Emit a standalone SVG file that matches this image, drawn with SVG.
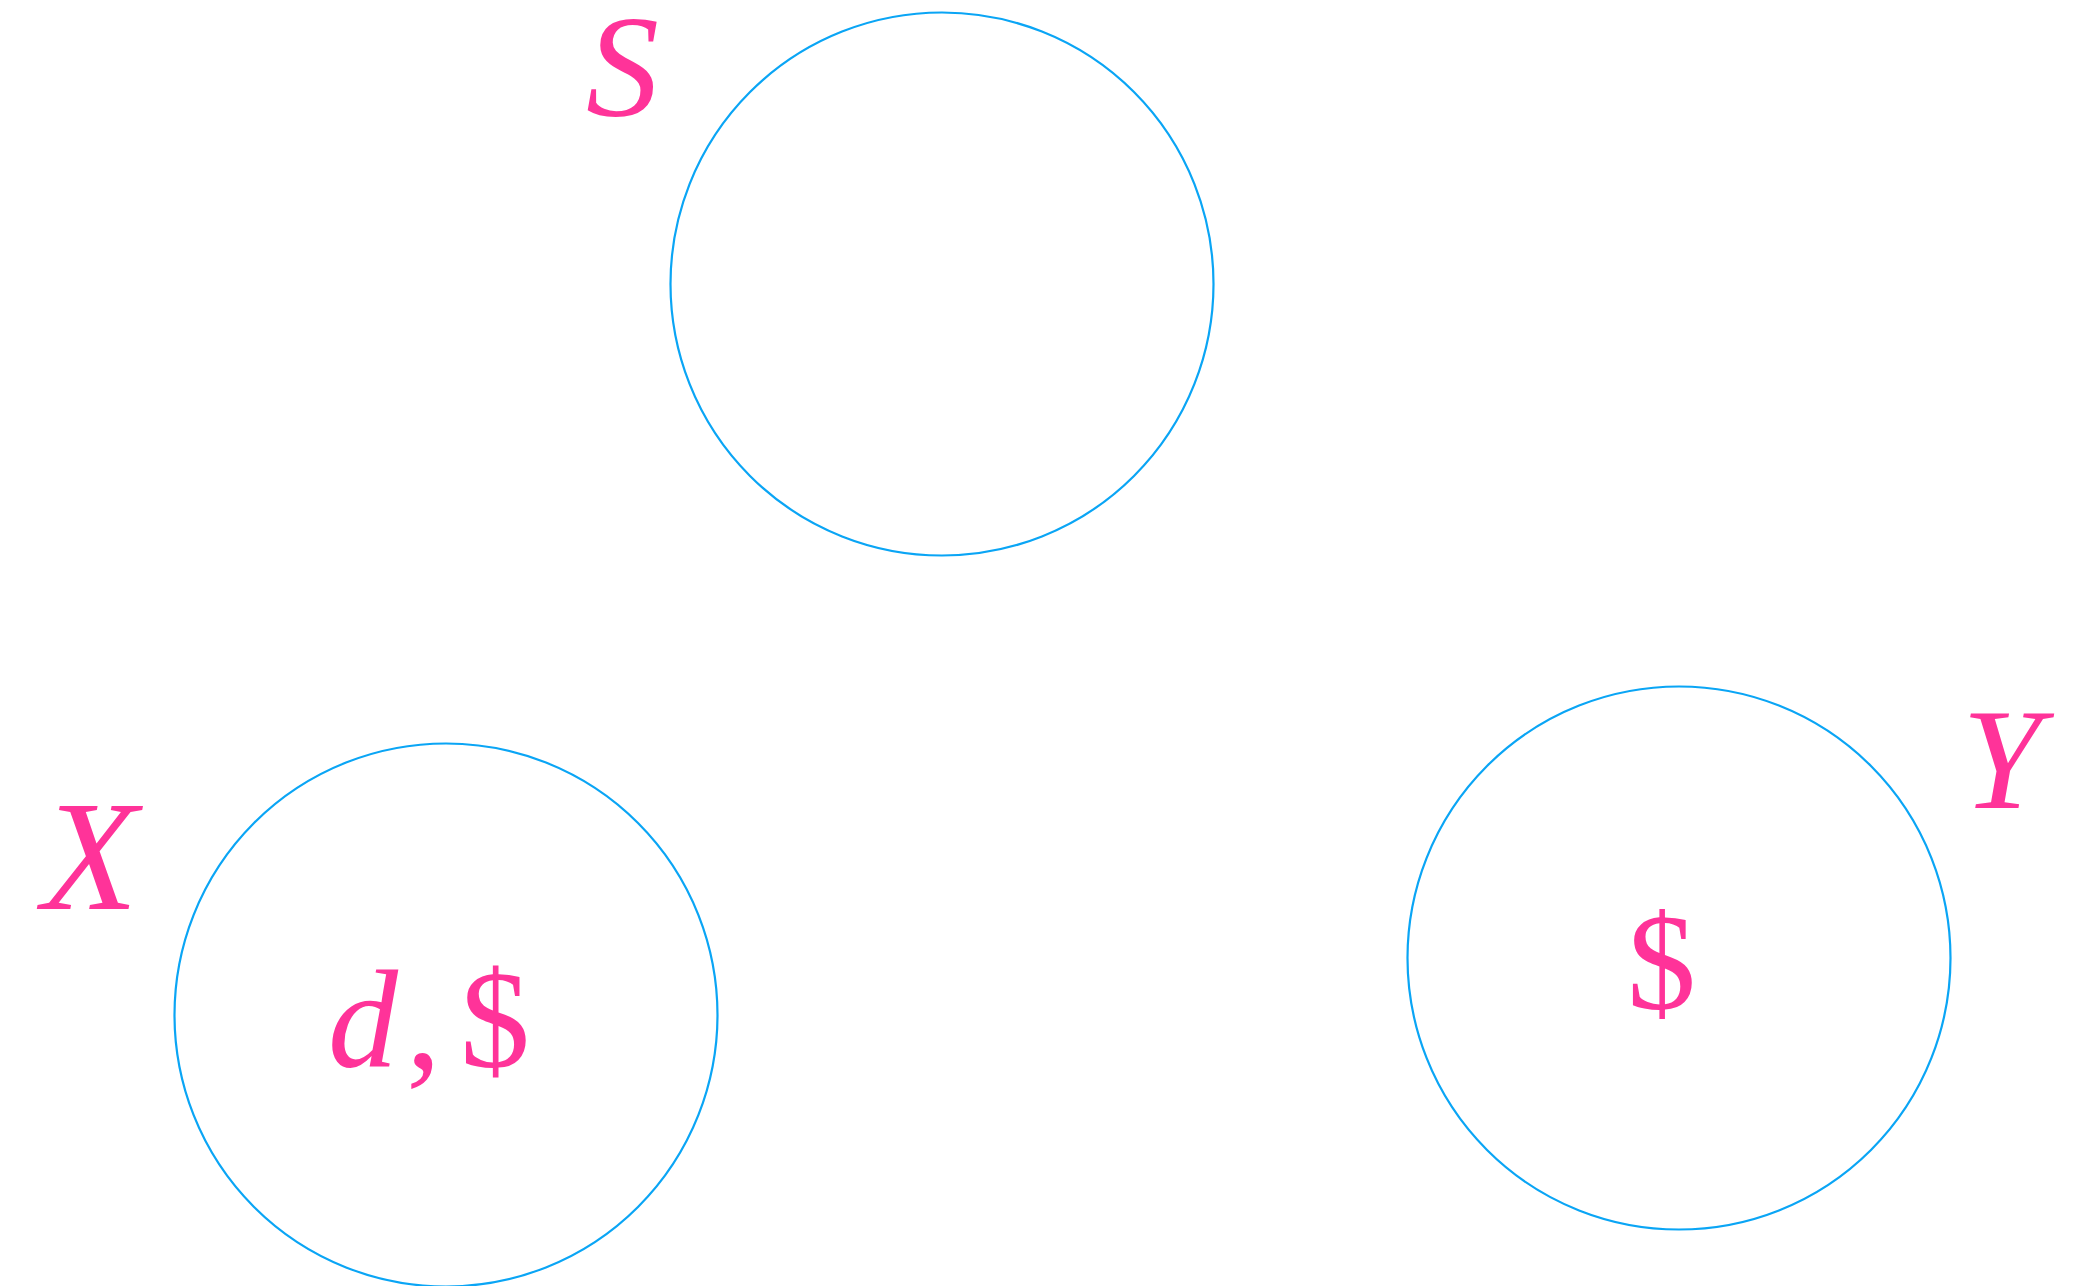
<svg xmlns="http://www.w3.org/2000/svg" width="2075" height="1286" viewBox="0 0 2075 1286">
<style>
.node circle{fill:none;stroke:#0AA5F5;stroke-width:2.2}
.lbl{font-family:"Liberation Serif","DejaVu Serif",serif;fill:#FF3399}
.it{font-style:italic}
</style>
<rect width="2075" height="1286" fill="#ffffff"/>
<g id="node-S" class="node">
<circle cx="942" cy="284" r="271.5"/>
<text class="lbl it" x="586" y="116" font-size="146">S</text>
</g>
<g id="node-X" class="node">
<circle cx="446" cy="1015" r="271.5"/>
<text class="lbl it" x="42" y="909" font-size="157">X</text>
<text class="lbl" x="328" y="1067" font-size="140"><tspan class="it">d</tspan><tspan dx="8">,</tspan><tspan dx="19">$</tspan></text>
</g>
<g id="node-Y" class="node">
<circle cx="1679" cy="958" r="271.5"/>
<text class="lbl it" x="1962" y="808" font-size="143">Y</text>
<text class="lbl" x="1627" y="1009" font-size="138">$</text>
</g>
<g id="connectors"></g>
</svg>
